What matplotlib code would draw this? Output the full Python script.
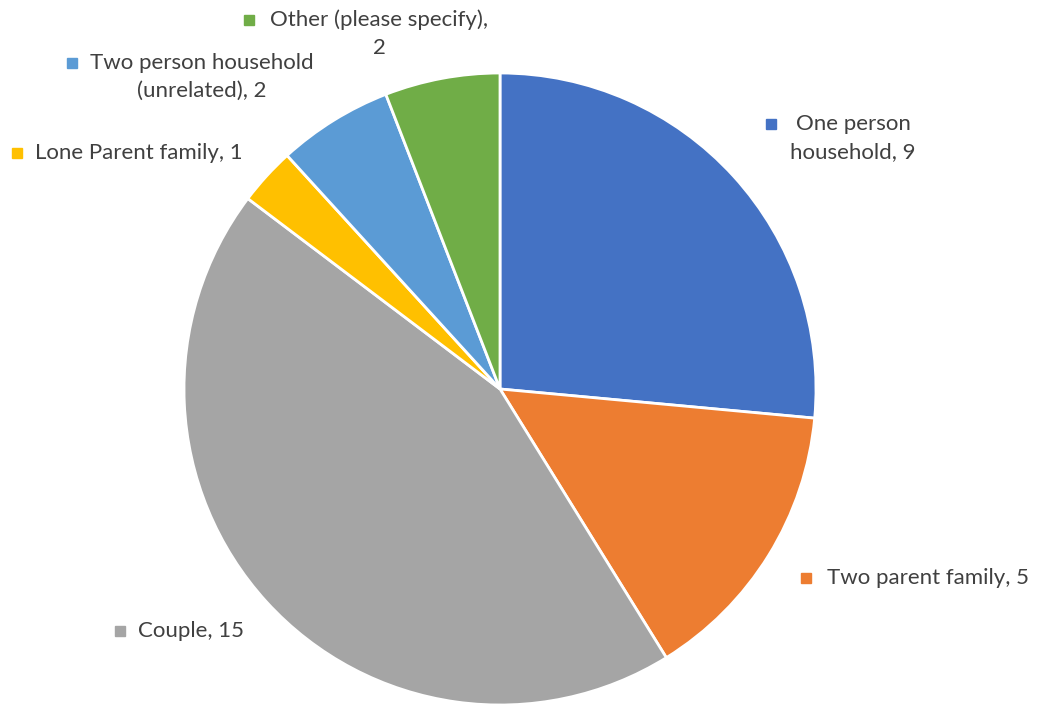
import matplotlib.pyplot as plt

plt.rcParams['font.family'] = ['Lato', 'DejaVu Sans']

# household types, drawn clockwise from 12 o'clock
categories = ["One person household", "Two parent family", "Couple",
              "Lone Parent family", "Two person household (unrelated)",
              "Other (please specify)"]
counts = [9, 5, 15, 1, 2, 2]
colors = ["#4472C4", "#ED7D31", "#A5A5A5", "#FFC000", "#5B9BD5", "#70AD47"]

# label text split into lines as shown beside each slice
label_lines = [
    ["One person", "household, 9"],
    ["Two parent family, 5"],
    ["Couple, 15"],
    ["Lone Parent family, 1"],
    ["Two person household", "(unrelated), 2"],
    ["Other (please specify),", "2"],
]
# (text centre x, first line y, marker x) in pixels from the top-left
label_pos = [
    (853, 124, 771),
    (928, 578, 806),
    (191, 631, 120),
    (139, 153, 17),
    (202, 63, 72),
    (379, 20, 249),
]

W, H = 1037, 704
fig = plt.figure(figsize=(W / 100, H / 100), dpi=100)
ax = fig.add_axes([0, 0, 1, 1])
ax.set_xlim(0, W)
ax.set_ylim(0, H)
ax.set_aspect('equal')
ax.axis('off')

ax.pie(counts, colors=colors, startangle=90, counterclock=False,
       center=(500, H - 389), radius=316,
       wedgeprops=dict(edgecolor='white', linewidth=2))

text_color = '#404040'
line_gap = 28
for lines, (cx, y0, mx), c in zip(label_lines, label_pos, colors):
    ax.plot(mx, H - y0, marker='s', markersize=6.5, color=c, linestyle='none')
    for i, line in enumerate(lines):
        ax.text(cx, H - (y0 + i * line_gap), line, ha='center', va='center',
                fontsize=16, color=text_color)

ax.set_xlim(0, W)
ax.set_ylim(0, H)
fig.savefig('out.png', dpi=100)
